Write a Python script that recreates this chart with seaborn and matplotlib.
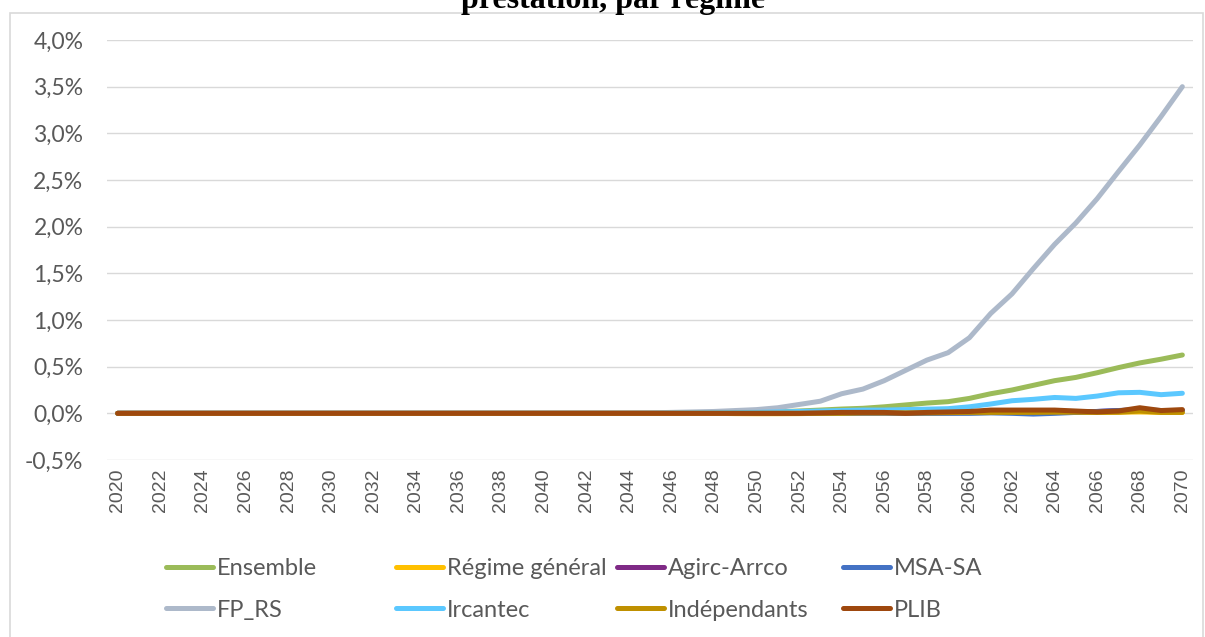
import numpy as np
import pandas as pd
import matplotlib
matplotlib.use("Agg")
import matplotlib.pyplot as plt
import seaborn as sns
from matplotlib.lines import Line2D
from matplotlib.patches import Rectangle

# Years 2020..2070
years = list(range(2020, 2071))

# values in %
ensemble = [0, 0, 0, 0, 0, 0, 0, 0, 0, 0,
            0, 0, 0, 0, 0, 0, 0, 0, 0, 0,
            0, 0, 0, 0, 0, 0, 0.002, 0.004, 0.006, 0.008,
            0.01, 0.015, 0.025, 0.035, 0.046, 0.054, 0.07, 0.09, 0.11, 0.125,
            0.16, 0.21, 0.25, 0.30, 0.35, 0.385, 0.435, 0.49, 0.54, 0.58,
            0.625]
regime_general = [0, 0, 0, 0, 0, 0, 0, 0, 0, 0,
                  0, 0, 0, 0, 0, 0, 0, 0, 0, 0,
                  0, 0, 0, 0, 0, 0, 0, 0, 0, -0.003,
                  -0.004, -0.004, -0.003, 0, 0, 0.002, 0.002, 0, 0.002, 0.004,
                  0.005, 0.008, 0.01, 0.01, 0.01, 0.01, 0.01, 0.012, 0.015, 0.01,
                  0.01]
agirc_arrco = [0, 0, 0, 0, 0, 0, 0, 0, 0, 0,
               0, 0, 0, 0, 0, 0, 0, 0, 0, 0,
               0, 0, 0, 0, 0, 0, 0, 0, 0, 0,
               0, 0, 0, 0.002, 0.004, 0.005, 0.005, 0.005, 0.006, 0.008,
               0.01, 0.012, 0.012, 0.012, 0.015, 0.015, 0.02, 0.03, 0.035, 0.025,
               0.03]
msa_sa = [0, 0, 0, 0, 0, 0, 0, 0, 0, 0,
          0, 0, 0, 0, 0, 0, 0, 0, 0, 0,
          0, 0, 0, 0, 0, 0, 0, 0, 0, 0,
          0, 0, 0, 0, 0, 0.002, 0.002, 0, 0, 0,
          0, 0.005, 0, -0.008, 0, 0.01, 0.02, 0.03, 0.04, 0.03,
          0.03]
fp_rs = [0, 0, 0, 0, 0, 0, 0, 0, 0, 0,
         0, 0, 0, 0, 0, 0, 0, 0, 0, 0,
         0, 0, 0, 0, 0, 0.005, 0.01, 0.015, 0.02, 0.03,
         0.04, 0.06, 0.095, 0.13, 0.21, 0.26, 0.35, 0.46, 0.57, 0.65,
         0.81, 1.07, 1.28, 1.55, 1.81, 2.04, 2.30, 2.59, 2.875, 3.18,
         3.5]
ircantec = [0, 0, 0, 0, 0, 0, 0, 0, 0, 0,
            0, 0, 0, 0, 0, 0, 0, 0, 0, 0,
            0, 0, 0, 0, 0, 0, 0.002, 0.004, 0.006, 0.008,
            0.01, 0.015, 0.02, 0.025, 0.03, 0.035, 0.035, 0.04, 0.045, 0.05,
            0.07, 0.10, 0.135, 0.15, 0.17, 0.16, 0.185, 0.22, 0.225, 0.20,
            0.215]
independants = [0, 0, 0, 0, 0, 0, 0, 0, 0, 0,
                0, 0, 0, 0, 0, 0, 0, 0, 0, 0,
                0, 0, 0, 0, 0, 0, 0, 0, 0, 0,
                0, 0, 0, 0, 0, 0.005, 0.005, 0.005, 0.005, 0.008,
                0.01, 0.01, 0.01, 0.01, 0.012, 0.012, 0.01, 0.012, 0.025, 0.01,
                0.01]
plib = [0, 0, 0, 0, 0, 0, 0, 0, 0, 0,
        0, 0, 0, 0, 0, 0, 0, 0, 0, 0,
        0, 0, 0, 0, 0, 0, 0, 0, 0, 0,
        0, 0, 0, 0.005, 0.01, 0.01, 0.01, 0.0, 0.01, 0.015,
        0.02, 0.035, 0.035, 0.035, 0.035, 0.025, 0.015, 0.025, 0.06, 0.03,
        0.04]

regimes = ["Ensemble", "Régime général", "Agirc-Arrco", "MSA-SA",
           "FP_RS", "Ircantec", "Indépendants", "PLIB"]
series = [ensemble, regime_general, agirc_arrco, msa_sa,
          fp_rs, ircantec, independants, plib]
colors = ["#9BBB59", "#FFC000", "#7F2A86", "#4472C4",
          "#ADB9CA", "#5BC8FF", "#BF9000", "#9E480E"]

y_ticks = [-0.5, 0.0, 0.5, 1.0, 1.5, 2.0, 2.5, 3.0, 3.5, 4.0]

df = pd.DataFrame({
    "annee": np.tile(years, len(regimes)),
    "valeur": np.concatenate(series),
    "regime": np.repeat(regimes, len(years)),
})

W, H = 1205, 637
fig = plt.figure(figsize=(W / 100, H / 100), dpi=100)
ax = fig.add_axes([107 / W, (H - 460) / H, (1193 - 107) / W, 420 / H])

palette = dict(zip(regimes, colors))
sns.lineplot(data=df, x="annee", y="valeur", hue="regime", hue_order=regimes,
             palette=palette, linewidth=3.6, legend=False, ax=ax,
             solid_capstyle="round")

ax.set_xlim(2019.5, 2070.5)
ax.set_ylim(-0.5, 4.0)
ax.set_yticks(y_ticks)
ax.set_yticklabels([f"{v:.1f}".replace(".", ",") + "%" for v in y_ticks],
                   fontfamily="Lato", fontsize=16.5, color="#595959")
ax.set_xticks(years[::2])
ax.set_xticklabels([str(y) for y in years[::2]], rotation=90,
                   fontfamily="Liberation Sans", fontsize=14, color="#595959")
ax.tick_params(axis="y", length=0, pad=17)
ax.tick_params(axis="x", length=0, pad=6)
ax.grid(axis="y", color="#d9d9d9", linewidth=1.0)
ax.set_axisbelow(True)
for s in ax.spines.values():
    s.set_visible(False)
ax.set_xlabel("")
ax.set_ylabel("")

# legend: 4 columns x 2 rows
col_x = [175, 405, 626, 852]
for c in range(4):
    handles = []
    labels = []
    for r in range(2):
        i = r * 4 + c
        handles.append(Line2D([], [], color=colors[i], linewidth=3.6, solid_capstyle="round"))
        labels.append(regimes[i])
    leg = fig.legend(handles, labels, loc="center left",
                     bbox_to_anchor=((col_x[c] - 9) / W, 1 - 589.5 / H),
                     frameon=False, handlelength=2.0, handletextpad=0.15,
                     labelspacing=0.85, borderpad=0, borderaxespad=0,
                     prop={"family": "Lato", "size": 17})
    for t in leg.get_texts():
        t.set_color("#595959")

fig.text(613 / W, 1 - 8 / H, "prestation, par régime", ha="center", va="baseline",
         fontfamily="Liberation Serif", fontweight="bold", fontsize=23)

fig.patches.append(Rectangle((10 / W, -0.05), (1203 - 10) / W, 1.05 - 13 / H,
                             transform=fig.transFigure, fill=False,
                             edgecolor="#d9d9d9", linewidth=1.2))

fig.savefig("out.png", dpi=100)
